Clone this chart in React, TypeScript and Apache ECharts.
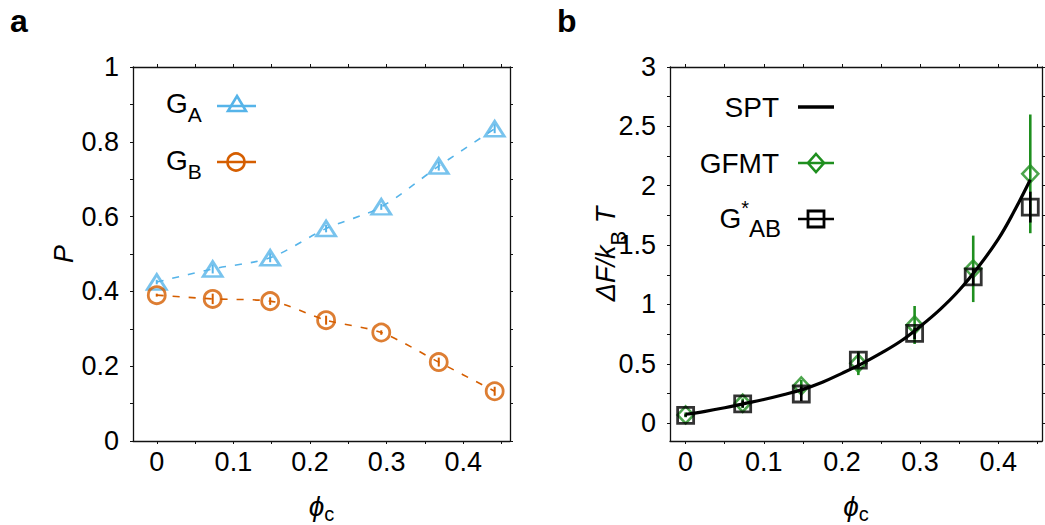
import React, { useEffect, useRef } from 'react';
import * as echarts from 'echarts';

// ---------- data ----------
const phiC = [0, 0.073, 0.148, 0.221, 0.293, 0.368, 0.441];

// panel a
const pGA = [0.425, 0.46, 0.49, 0.568, 0.626, 0.735, 0.835];
const errGA = [0.006, 0.012, 0.012, 0.01, 0.008, 0.012, 0.012];
const pGB = [0.39, 0.38, 0.374, 0.323, 0.29, 0.211, 0.133];
const errGB = [0.004, 0.014, 0.01, 0.012, 0.006, 0.012, 0.012];

// panel b
const sptPhi = [0, 0.025, 0.05, 0.075, 0.1, 0.125, 0.15, 0.175, 0.2, 0.225, 0.25, 0.275, 0.3, 0.325, 0.35, 0.375, 0.4, 0.42, 0.441];
const sptVal = [0.075, 0.1, 0.13, 0.165, 0.2, 0.24, 0.285, 0.345, 0.42, 0.5, 0.59, 0.69, 0.815, 0.955, 1.12, 1.32, 1.55, 1.78, 2.05];
const dfGFMT = [0.07, 0.168, 0.314, 0.505, 0.827, 1.3, 2.1];
const errGFMT = [0.02, 0.04, 0.05, 0.1, 0.16, 0.28, 0.5];
const dfGAB = [0.065, 0.162, 0.246, 0.532, 0.757, 1.233, 1.82];
const errGAB = [0.01, 0.03, 0.06, 0.06, 0.05, 0.07, 0.13];

// ticks
const xTicks = [0, 0.1, 0.2, 0.3, 0.4];
const xMinor = [0.05, 0.15, 0.25, 0.35, 0.45];
const yTicksA = [0, 0.2, 0.4, 0.6, 0.8, 1];
const yMinorA = [0.1, 0.3, 0.5, 0.7, 0.9];
const yTicksB = [0, 0.5, 1, 1.5, 2, 2.5, 3];
const yMinorB = [0.25, 0.75, 1.25, 1.75, 2.25, 2.75];

const FONT = '"Liberation Sans", Arial, Helvetica, sans-serif';
const BLUE = '#56B4E9';
const ORANGE = '#D55E00';
const GREEN = '#1f8f1f';
const BLACK = '#000000';

const pairs = (xs: number[], ys: number[]) => xs.map((x, i) => [x, ys[i]]);
const triples = (xs: number[], ys: number[], es: number[]) => xs.map((x, i) => [x, ys[i], es[i]]);

function errBars(color: string, width: number) {
  return (params: any, api: any) => {
    const x = api.value(0);
    const y = api.value(1);
    const e = api.value(2);
    const t = api.coord([x, y + e]);
    const b = api.coord([x, y - e]);
    return {
      type: 'line',
      shape: { x1: t[0], y1: t[1], x2: b[0], y2: b[1] },
      style: { stroke: color, lineWidth: width },
    };
  };
}

const axisLine = { show: true, onZero: false, lineStyle: { color: '#111', width: 1.3 } };
const tickStyle = { lineStyle: { color: '#111', width: 1 } };

function xAxis(grid: number, pos: 'bottom' | 'top', min: number, max: number, withLabels: boolean) {
  const a: any = {
    type: 'value',
    gridIndex: grid,
    position: pos,
    min,
    max,
    splitLine: { show: false },
    axisLine,
    axisTick: { show: true, inside: false, length: 3, customValues: [...xTicks, ...xMinor], ...tickStyle },
    axisLabel: withLabels
      ? { show: true, customValues: xTicks, margin: 7, fontSize: 27, color: '#000', fontFamily: FONT }
      : { show: false },
  };
  if (withLabels) {
    a.name = '{i|ϕ}{s|c}';
    a.nameLocation = 'middle';
    a.nameGap = 51;
    a.nameMoveOverlap = false;
    a.nameTextStyle = {
      rich: {
        i: { fontSize: 28, fontStyle: 'italic', fontFamily: FONT, color: '#000', lineHeight: 30, verticalAlign: 'top' },
        s: { fontSize: 20, fontFamily: FONT, color: '#000', lineHeight: 20, padding: [12, 0, 0, 0], verticalAlign: 'top' },
      },
    };
  }
  return a;
}

function yAxis(grid: number, pos: 'left' | 'right', min: number, max: number, ticks: number[], minor: number[], withLabels: boolean, name?: any) {
  const a: any = {
    type: 'value',
    gridIndex: grid,
    position: pos,
    min,
    max,
    splitLine: { show: false },
    axisLine,
    axisTick: { show: true, inside: false, length: 3, customValues: [...ticks, ...minor], ...tickStyle },
    axisLabel: withLabels
      ? { show: true, customValues: ticks, margin: 14, fontSize: 27, color: '#000', fontFamily: FONT }
      : { show: false },
  };
  if (name) Object.assign(a, name);
  return a;
}

const legendText = (x: number, y: number, text: string, align: string, subPad: number, mainSize = 28, subSize = 21) => ({
  type: 'text',
  x,
  y,
  style: {
    text,
    align,
    verticalAlign: 'top',
    fill: '#000',
    font: `${mainSize}px ${FONT}`,
    rich: {
      g: { fontSize: mainSize, fontFamily: FONT, fill: '#000', lineHeight: 30, verticalAlign: 'top' },
      s: { fontSize: subSize, fontFamily: FONT, fill: '#000', lineHeight: subSize, padding: [subPad, 0, 0, 0], verticalAlign: 'top' },
    },
  },
});

const hLine = (x1: number, x2: number, y: number, color: string, w: number) => ({
  type: 'line',
  shape: { x1, y1: y, x2, y2: y },
  style: { stroke: color, lineWidth: w },
});

export default function App() {
  const ref = useRef<HTMLDivElement>(null);
  useEffect(() => {
    if (!ref.current) return;
    const chart = echarts.init(ref.current, undefined, { renderer: 'svg' });
    const option: any = {
      animation: false,
      backgroundColor: '#ffffff',
      grid: [
        { left: 133, top: 67, width: 377, height: 374, containLabel: false, outerBoundsMode: 'none' },
        { left: 670, top: 67, width: 372, height: 374, containLabel: false, outerBoundsMode: 'none' },
      ],
      xAxis: [
        xAxis(0, 'bottom', -0.031, 0.461, true),
        xAxis(0, 'top', -0.031, 0.461, false),
        xAxis(1, 'bottom', -0.02, 0.456, true),
        xAxis(1, 'top', -0.02, 0.456, false),
      ],
      yAxis: [
        yAxis(0, 'left', 0, 1, yTicksA, yMinorA, true, {
          name: 'P',
          nameLocation: 'middle',
          nameGap: 56,
          nameRotate: 90,
          nameMoveOverlap: false,
          nameTextStyle: { fontSize: 27, fontStyle: 'italic', fontFamily: FONT, color: '#000' },
        }),
        yAxis(0, 'right', 0, 1, yTicksA, yMinorA, false),
        yAxis(1, 'left', -0.15, 3, yTicksB, yMinorB, true, {
          name: '{i|ΔF/k}{s|B}{i| T}',
          nameLocation: 'middle',
          nameGap: 48,
          nameRotate: 90,
          nameMoveOverlap: false,
          nameTextStyle: {
            rich: {
              i: { fontSize: 27, fontStyle: 'italic', fontFamily: FONT, color: '#000', lineHeight: 30, verticalAlign: 'top' },
              s: { fontSize: 22, fontFamily: FONT, color: '#000', lineHeight: 22, padding: [15, 0, 0, 0], verticalAlign: 'top' },
            },
          },
        }),
        yAxis(1, 'right', -0.15, 3, yTicksB, yMinorB, false),
      ],
      series: [
        // ---- panel a ----
        {
          name: 'GA fit',
          type: 'line',
          xAxisIndex: 0,
          yAxisIndex: 0,
          data: pairs(phiC, pGA),
          smooth: 0.3,
          showSymbol: false,
          lineStyle: { color: BLUE, width: 1.6, type: [7, 9] },
          z: 2,
        },
        {
          name: 'GB fit',
          type: 'line',
          xAxisIndex: 0,
          yAxisIndex: 0,
          data: pairs(phiC, pGB),
          smooth: 0.3,
          showSymbol: false,
          lineStyle: { color: ORANGE, width: 1.6, type: [7, 9] },
          z: 2,
        },
        {
          name: 'GA err',
          type: 'custom',
          xAxisIndex: 0,
          yAxisIndex: 0,
          data: triples(phiC, pGA, errGA),
          encode: { x: 0, y: 1 },
          renderItem: errBars(BLUE, 2),
          z: 3,
        },
        {
          name: 'GB err',
          type: 'custom',
          xAxisIndex: 0,
          yAxisIndex: 0,
          data: triples(phiC, pGB, errGB),
          encode: { x: 0, y: 1 },
          renderItem: errBars(ORANGE, 2),
          z: 3,
        },
        {
          name: 'GA',
          type: 'scatter',
          xAxisIndex: 0,
          yAxisIndex: 0,
          data: pairs(phiC, pGA),
          symbol: 'triangle',
          symbolSize: [19, 15],
          itemStyle: { color: 'none', borderColor: BLUE, borderWidth: 2.8 },
          z: 4,
        },
        {
          name: 'GB',
          type: 'scatter',
          xAxisIndex: 0,
          yAxisIndex: 0,
          data: pairs(phiC, pGB),
          symbol: 'circle',
          symbolSize: 17,
          itemStyle: { color: 'none', borderColor: ORANGE, borderWidth: 2.8 },
          z: 4,
        },
        // ---- panel b ----
        {
          name: 'GFMT err',
          type: 'custom',
          xAxisIndex: 2,
          yAxisIndex: 2,
          data: triples(phiC, dfGFMT, errGFMT),
          encode: { x: 0, y: 1 },
          renderItem: errBars(GREEN, 2.6),
          z: 3,
        },
        {
          name: 'GFMT',
          type: 'scatter',
          xAxisIndex: 2,
          yAxisIndex: 2,
          data: pairs(phiC, dfGFMT),
          symbol: 'diamond',
          symbolSize: [16, 17],
          itemStyle: { color: 'none', borderColor: GREEN, borderWidth: 2.6 },
          z: 4,
        },
        {
          name: 'GAB err',
          type: 'custom',
          xAxisIndex: 2,
          yAxisIndex: 2,
          data: triples(phiC, dfGAB, errGAB),
          encode: { x: 0, y: 1 },
          renderItem: errBars(BLACK, 2.6),
          z: 5,
        },
        {
          name: 'GAB',
          type: 'scatter',
          xAxisIndex: 2,
          yAxisIndex: 2,
          data: pairs(phiC, dfGAB),
          symbol: 'rect',
          symbolSize: 16,
          itemStyle: { color: 'none', borderColor: BLACK, borderWidth: 2.8 },
          z: 5,
        },
        {
          name: 'SPT',
          type: 'line',
          xAxisIndex: 2,
          yAxisIndex: 2,
          data: pairs(sptPhi, sptVal),
          smooth: 0.4,
          showSymbol: false,
          lineStyle: { color: BLACK, width: 3.2 },
          z: 6,
        },
      ],
      graphic: [
        // panel labels
        { type: 'text', x: 10, y: 21, style: { text: 'a', font: `bold 32px ${FONT}`, fill: '#000', verticalAlign: 'middle' } },
        { type: 'text', x: 557, y: 21, style: { text: 'b', font: `bold 32px ${FONT}`, fill: '#000', verticalAlign: 'middle' } },
        // legend a
        legendText(166, 89, '{g|G}{s|A}', 'left', 15),
        hLine(217, 256, 106, BLUE, 2.6),
        { type: 'polygon', shape: { points: [[237, 96], [246, 111], [228, 111]] }, style: { fill: 'none', stroke: BLUE, lineWidth: 2.6 } },
        legendText(166, 146, '{g|G}{s|B}', 'left', 15),
        hLine(217, 256, 162, ORANGE, 2.6),
        { type: 'circle', shape: { cx: 236, cy: 162, r: 8.5 }, style: { fill: 'none', stroke: ORANGE, lineWidth: 2.6 } },
        // legend b
        legendText(779, 93, 'SPT', 'right', 15),
        hLine(798, 834, 107, BLACK, 3.4),
        legendText(779, 149, 'GFMT', 'right', 15),
        hLine(798, 834, 163, GREEN, 2.6),
        { type: 'polygon', shape: { points: [[816, 154], [824, 163], [816, 172], [808, 163]] }, style: { fill: 'none', stroke: GREEN, lineWidth: 2.6 } },
        {
          type: 'text',
          x: 781,
          y: 198,
          style: {
            text: '{g|G}{p|*}{s|AB}',
            align: 'right',
            verticalAlign: 'top',
            fill: '#000',
            font: `28px ${FONT}`,
            rich: {
              g: { fontSize: 28, fontFamily: FONT, fill: '#000', lineHeight: 30, padding: [6, 0, 0, 0], verticalAlign: 'top' },
              p: { fontSize: 20, fontFamily: FONT, fill: '#000', lineHeight: 20, verticalAlign: 'top' },
              s: { fontSize: 24, fontFamily: FONT, fill: '#000', lineHeight: 24, padding: [18, 0, 0, 0], verticalAlign: 'top' },
            },
          },
        },
        hLine(798, 834, 219, BLACK, 2.6),
        { type: 'rect', shape: { x: 808, y: 211, width: 16, height: 16 }, style: { fill: 'none', stroke: BLACK, lineWidth: 2.8 } },
      ],
    };
    chart.setOption(option);
    return () => chart.dispose();
  }, []);
  return (
    <div
      ref={ref}
      style={{ position: 'fixed', left: 0, top: 0, width: 1045, height: 525, background: '#fff' }}
    />
  );
}
